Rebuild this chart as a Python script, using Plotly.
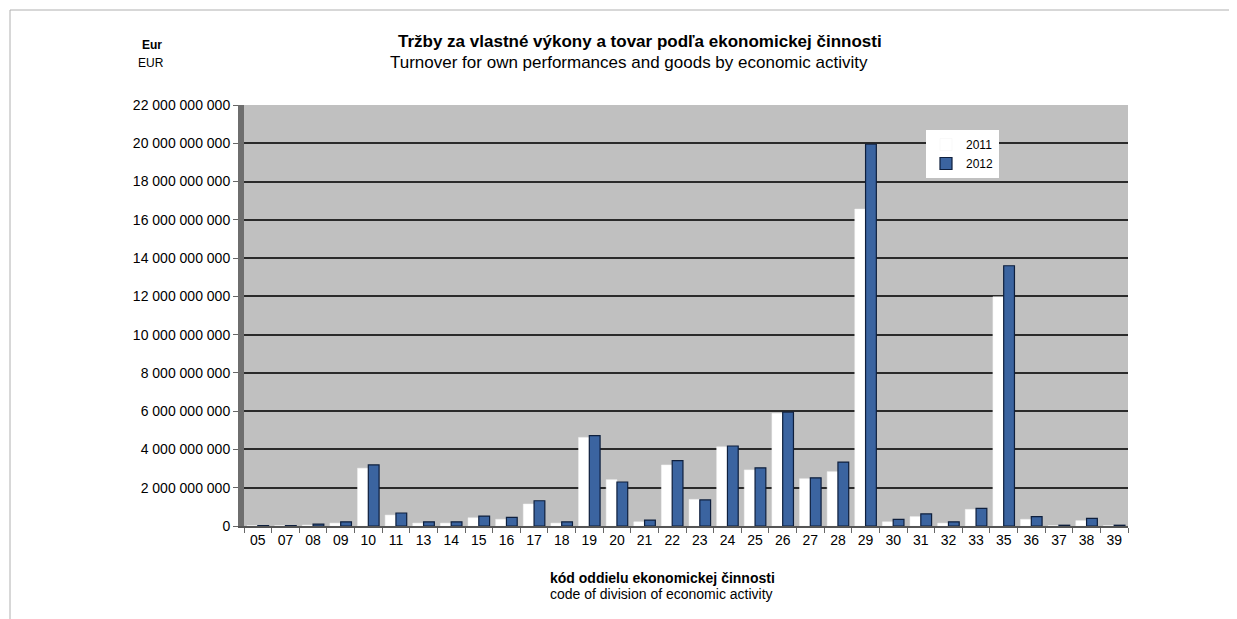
import plotly.graph_objects as go

categories = ["05", "07", "08", "09", "10", "11", "13", "14", "15", "16", "17", "18",
              "19", "20", "21", "22", "23", "24", "25", "26", "27", "28", "29", "30",
              "31", "32", "33", "35", "36", "37", "38", "39"]

# values in EUR
turnover_2011 = [0.02e9, 0.02e9, 0.05e9, 0.15e9, 3.02e9, 0.57e9, 0.15e9, 0.15e9, 0.43e9, 0.35e9,
                 1.15e9, 0.15e9, 4.63e9, 2.42e9, 0.22e9, 3.19e9, 1.39e9, 4.14e9, 2.93e9, 5.89e9,
                 2.47e9, 2.84e9, 16.56e9, 0.22e9, 0.49e9, 0.15e9, 0.87e9, 11.98e9, 0.35e9,
                 0.02e9, 0.28e9, 0.02e9]
turnover_2012 = [0.02e9, 0.02e9, 0.10e9, 0.22e9, 3.19e9, 0.68e9, 0.22e9, 0.22e9, 0.52e9, 0.45e9,
                 1.32e9, 0.22e9, 4.72e9, 2.30e9, 0.31e9, 3.42e9, 1.36e9, 4.18e9, 3.04e9, 5.95e9,
                 2.52e9, 3.34e9, 19.95e9, 0.35e9, 0.63e9, 0.22e9, 0.92e9, 13.6e9, 0.49e9,
                 0.04e9, 0.40e9, 0.04e9]

y_ticks = [0, 2e9, 4e9, 6e9, 8e9, 10e9, 12e9, 14e9, 16e9, 18e9, 20e9, 22e9]

FONT = "Liberation Sans, Arial, sans-serif"

# the page has an 8px body margin; figure is sized to fill the rest of the window
OFF = 8
W, H = 1237 - OFF, 619 - OFF
L, R, T, B = 244 - OFF, 109, 105 - OFF, 93
pw, ph = W - L - R, H - T - B


def px(x):
    return (x - OFF - L) / pw


def py(y):
    return (H - B - (y - OFF)) / ph


fig = go.Figure()
fig.add_trace(go.Bar(x=categories, y=turnover_2011, name="2011",
                     marker=dict(color="#ffffff", line=dict(color="#f2f2f2", width=0.5))))
fig.add_trace(go.Bar(x=categories, y=turnover_2012, name="2012",
                     marker=dict(color="#3b64a0", line=dict(color="#0e1f3d", width=1.2))))

texts = [
    ("<b>Tržby za vlastné výkony a tovar podľa ekonomickej činnosti</b>", 640, 42, 17),
    ("Turnover for own performances and goods by economic activity", 629, 62, 17),
    ("<b>Eur</b>", 152, 45, 12),
    ("EUR", 151, 63, 12),
    ("<b>kód oddielu ekonomickej činnosti</b>", 662, 578, 14),
    ("code of division of economic activity", 661, 594, 14),
]
annotations = [dict(text=t, x=px(x), y=py(y), xref="paper", yref="paper", showarrow=False,
                    xanchor="center", yanchor="middle", font=dict(size=s))
               for t, x, y, s in texts]

fig.update_layout(
    width=W, height=H,
    paper_bgcolor="#ffffff",
    plot_bgcolor="#c0c0c0",
    separators=", ",
    barmode="group",
    bargap=0.22,
    bargroupgap=0.0,
    margin=dict(l=L, r=R, t=T, b=B),
    font=dict(family=FONT, size=14, color="#000000"),
    showlegend=True,
    legend=dict(x=px(926), y=py(130), xanchor="left", yanchor="top",
                bgcolor="#ffffff", borderwidth=0, font=dict(size=12),
                traceorder="normal", itemwidth=30),
    xaxis=dict(
        type="category", tickfont=dict(size=14), ticks="outside", ticklen=5,
        tickson="boundaries", tickcolor="#666666", showline=True, linecolor="#555555",
        linewidth=2, showgrid=False,
    ),
    yaxis=dict(
        range=[0, 22e9], tickvals=y_ticks, tickformat=",d", tickfont=dict(size=14),
        showgrid=True, gridcolor="#2a2a2a", gridwidth=1.5, zeroline=False,
        ticks="outside", ticklen=5, tickcolor="#666666",
        showline=True, linecolor="#6e6e6e", linewidth=6,
    ),
    annotations=annotations,
)

# thin outer frame (top and left) like in the reference
fig.add_shape(type="line", xref="paper", yref="paper",
              x0=px(10), x1=px(1240), y0=py(10), y1=py(10),
              line=dict(color="#b0b0b0", width=1))
fig.add_shape(type="line", xref="paper", yref="paper",
              x0=px(10), x1=px(10), y0=py(10), y1=py(625),
              line=dict(color="#b0b0b0", width=1))

fig.write_html("out.html")
